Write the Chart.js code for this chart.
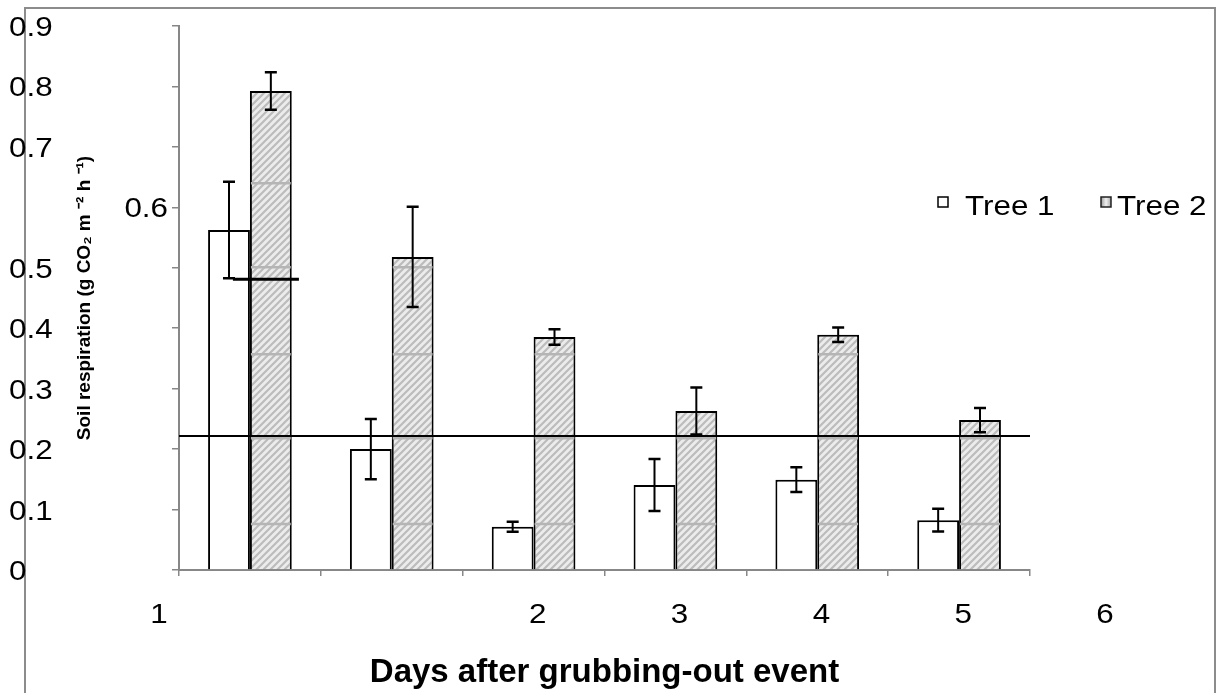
<!DOCTYPE html>
<html>
<head>
<meta charset="utf-8">
<title>Soil respiration after grubbing-out</title>
<script src="https://cdn.jsdelivr.net/npm/chart.js@4.4.1/dist/chart.umd.min.js"></script>
<style>
  html, body { margin: 0; padding: 0; background: #fff; }
  canvas { display: block; }
</style>
</head>
<body>
<canvas id="respirationChart" width="1220" height="693"></canvas>
<script>
//=[ Data ]======================================================================

const days = ["1", "2", "3", "4", "5", "6"];

const tree1 = [0.5625, 0.2, 0.0715, 0.1405, 0.1495, 0.0825];
const tree1Err = [0.08, 0.05, 0.0083, 0.043, 0.0205, 0.019];

const tree2 = [0.7925, 0.518, 0.3855, 0.263, 0.389, 0.248];
const tree2Err = [0.031, 0.083, 0.013, 0.039, 0.012, 0.02];

const yTickLabels = ["0", "0.1", "0.2", "0.3", "0.4", "0.5", "0.6", "0.7", "0.8", "0.9"];

// horizontal reference line and the loose thick stroke near day 1
const refLevel = 0.2217;
const strayLevel = 0.481;

// faint bands that show through the hatched bars
const bandLevels = [0.076, 0.218, 0.357, 0.501, 0.64];

//=[ Layout / style ]============================================================

const TICK_FONT = "28px 'Liberation Sans', Arial, sans-serif";
const TEXT_STRETCH = 1.12;
const xLabelShift = [-91, 146, 146, 146, 146, 146];
const AXIS_GREY = "#878787";

function hatchPattern() {
  const size = 7;
  const c = document.createElement("canvas");
  c.width = size;
  c.height = size;
  const g = c.getContext("2d");
  g.fillStyle = "#ececec";
  g.fillRect(0, 0, size, size);
  g.strokeStyle = "#bcbcbc";
  g.lineWidth = 2.2;
  g.beginPath();
  g.moveTo(-1, size + 1);
  g.lineTo(size + 1, -1);
  g.moveTo(-2, 2);
  g.lineTo(2, -2);
  g.moveTo(size - 2, size + 2);
  g.lineTo(size + 2, size - 2);
  g.stroke();
  return g.createPattern(c, "repeat");
}

function stretchedText(ctx, text, x, y, align) {
  ctx.save();
  ctx.translate(x, y);
  ctx.scale(TEXT_STRETCH, 1);
  ctx.textAlign = align;
  ctx.textBaseline = "alphabetic";
  ctx.fillText(text, 0, 0);
  ctx.restore();
}

//=[ Plugins ]===================================================================

const framePlugin = {
  id: "frame",
  beforeDraw(chart) {
    const { ctx, width, height } = chart;
    ctx.save();
    ctx.fillStyle = "#fff";
    ctx.fillRect(0, 0, width, height);
    ctx.strokeStyle = "#8c8c8c";
    ctx.lineWidth = 2;
    ctx.strokeRect(25, 8, 1190, height + 20);
    ctx.restore();
  },
};

const marksPlugin = {
  id: "marks",
  afterDatasetsDraw(chart) {
    const { ctx, chartArea } = chart;
    const y = chart.scales.y;
    const x = chart.scales.x;

    // faint bands inside the hatched bars
    const hatched = chart.getDatasetMeta(1).data;
    ctx.save();
    ctx.strokeStyle = "#b5b5b5";
    ctx.lineWidth = 2.5;
    hatched.forEach((bar) => {
      const { x: bx, y: top, base, width } = bar.getProps(["x", "y", "base", "width"], true);
      ctx.save();
      ctx.beginPath();
      ctx.rect(bx - width / 2 + 1, top + 1, width - 2, base - top - 1);
      ctx.clip();
      bandLevels.forEach((v) => {
        const py = y.getPixelForValue(v);
        ctx.beginPath();
        ctx.moveTo(bx - width / 2, py);
        ctx.lineTo(bx + width / 2, py);
        ctx.stroke();
      });
      ctx.restore();
    });
    ctx.restore();

    // error bars
    const series = [
      [tree1, tree1Err],
      [tree2, tree2Err],
    ];
    ctx.save();
    ctx.strokeStyle = "#000";
    series.forEach(([vals, errs], di) => {
      chart.getDatasetMeta(di).data.forEach((bar, i) => {
        const hi = y.getPixelForValue(vals[i] + errs[i]);
        const lo = y.getPixelForValue(vals[i] - errs[i]);
        ctx.lineWidth = 2;
        ctx.beginPath();
        ctx.moveTo(bar.x, hi);
        ctx.lineTo(bar.x, lo);
        ctx.stroke();
        ctx.lineWidth = 2.5;
        ctx.beginPath();
        ctx.moveTo(bar.x - 6, hi);
        ctx.lineTo(bar.x + 6, hi);
        ctx.moveTo(bar.x - 6, lo);
        ctx.lineTo(bar.x + 6, lo);
        ctx.stroke();
      });
    });

    // reference line across the plot
    const ry = y.getPixelForValue(refLevel);
    ctx.lineWidth = 2;
    ctx.beginPath();
    ctx.moveTo(chartArea.left, ry);
    ctx.lineTo(chartArea.right, ry);
    ctx.stroke();

    // thick stroke next to the first pair
    const sy = y.getPixelForValue(strayLevel);
    const cx = x.getPixelForValue(0);
    ctx.lineWidth = 3;
    ctx.beginPath();
    ctx.moveTo(cx - 17, sy);
    ctx.lineTo(cx + 49, sy);
    ctx.stroke();
    ctx.restore();
  },
};

const labelsPlugin = {
  id: "labels",
  afterDraw(chart) {
    const { ctx } = chart;
    const y = chart.scales.y;
    const x = chart.scales.x;
    ctx.save();
    ctx.fillStyle = "#000";
    ctx.font = TICK_FONT;

    // value labels: most sit at the far left, 0.6 hugs the axis
    yTickLabels.forEach((label) => {
      const py = y.getPixelForValue(Number(label)) + 10;
      if (label === "0.6") {
        stretchedText(ctx, label, y.right - 11, py, "right");
      } else {
        stretchedText(ctx, label, 9, py, "left");
      }
    });

    // day labels
    days.forEach((label, i) => {
      stretchedText(ctx, label, x.getPixelForValue(i) + xLabelShift[i], 623, "center");
    });

    // legend
    ctx.lineWidth = 1.5;
    ctx.fillStyle = "#fff";
    ctx.strokeStyle = "#000";
    ctx.fillRect(938, 197, 10, 10);
    ctx.strokeRect(938, 197, 10, 10);
    const grad = ctx.createLinearGradient(1101, 0, 1111, 0);
    grad.addColorStop(0, "#9a9a9a");
    grad.addColorStop(0.5, "#f0f0f0");
    grad.addColorStop(1, "#a8a8a8");
    ctx.fillStyle = grad;
    ctx.strokeStyle = "#222";
    ctx.fillRect(1101, 197, 10, 10);
    ctx.strokeRect(1101, 197, 10, 10);
    ctx.fillStyle = "#000";
    stretchedText(ctx, "Tree 1", 965, 215, "left");
    stretchedText(ctx, "Tree 2", 1117, 215, "left");
    ctx.restore();
  },
};

//=[ Chart ]=====================================================================

const respirationConfig = {
  type: "bar",
  data: {
    labels: days,
    datasets: [
      {
        label: "Tree 1",
        data: tree1,
        backgroundColor: "#ffffff",
        borderColor: "#000000",
        borderWidth: 2,
      },
      {
        label: "Tree 2",
        data: tree2,
        backgroundColor: hatchPattern(),
        borderColor: "#000000",
        borderWidth: 2,
      },
    ],
  },
  options: {
    responsive: false,
    animation: false,
    categoryPercentage: 0.59,
    barPercentage: 1,
    layout: {
      padding: { left: 0, right: 190, top: 26, bottom: 0 },
    },
    plugins: {
      legend: { display: false },
      tooltip: { enabled: false },
    },
    scales: {
      x: {
        grid: {
          offset: true,
          drawOnChartArea: false,
          tickLength: 6,
          color: AXIS_GREY,
          lineWidth: 1.5,
        },
        border: { color: AXIS_GREY, width: 2 },
        ticks: { display: false },
        title: {
          display: true,
          text: "Days after grubbing-out event",
          color: "#000",
          font: { family: "'Liberation Sans', Arial, sans-serif", size: 33, weight: "bold", lineHeight: 1.2 },
          padding: { top: 77.4, bottom: 0 },
        },
      },
      y: {
        min: 0,
        max: 0.9,
        ticks: { display: false, stepSize: 0.1 },
        grid: {
          drawOnChartArea: false,
          tickLength: 7,
          color: AXIS_GREY,
          lineWidth: 1.5,
        },
        border: { color: AXIS_GREY, width: 2 },
        title: {
          display: true,
          text: "Soil respiration (g CO\u2082 m \u207B\u00B2 h \u207B\u00B9)",
          color: "#000",
          font: { family: "'Liberation Sans', Arial, sans-serif", size: 19, weight: "bold", lineHeight: 1.2 },
          padding: { top: 73.6, bottom: 75.6 },
        },
      },
    },
  },
  plugins: [framePlugin, marksPlugin, labelsPlugin],
};

new Chart(document.getElementById("respirationChart"), respirationConfig);
</script>
</body>
</html>
